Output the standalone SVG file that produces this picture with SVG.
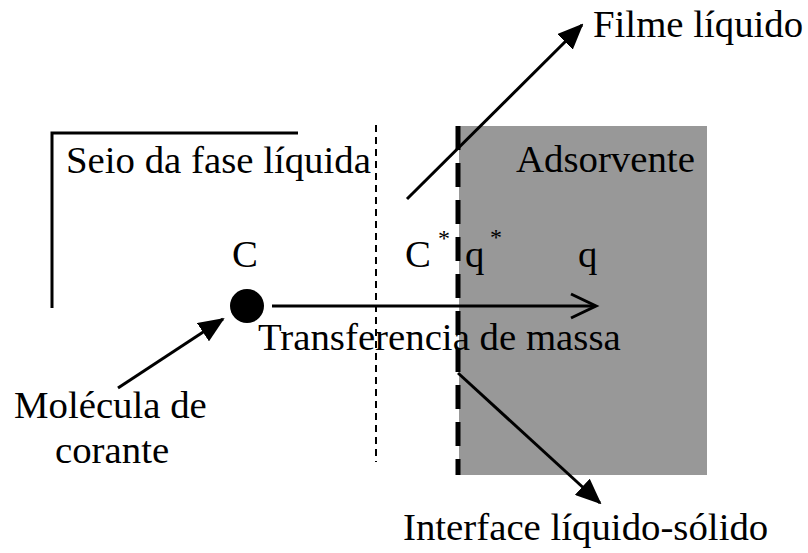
<svg xmlns="http://www.w3.org/2000/svg" width="808" height="553" viewBox="0 0 808 553">
<style>
text{font-family:"Liberation Serif","Times New Roman",serif;font-size:38.8px;fill:#000}
.ln{stroke:#000;stroke-width:3;fill:none}
.sup{font-size:24px}
</style>
<defs>
<marker id="ahf" markerWidth="26" markerHeight="22" refX="24" refY="11" orient="auto" markerUnits="userSpaceOnUse" viewBox="0 0 26 22">
<path d="M0,0 L26,11 L0,22 z" fill="#000"/>
</marker>
</defs>
<rect width="808" height="553" fill="#fff"/>
<g id="adsorvente">
<rect x="459" y="126" width="248" height="349" fill="#989898"/>
<text x="516" y="172">Adsorvente</text>
</g>
<g id="seio">
<path class="ln" d="M52,308 V133 H298"/>
<text x="66" y="173">Seio da fase líquida</text>
</g>
<g id="filme">
<line x1="376" y1="125" x2="376" y2="462" stroke="#000" stroke-width="2" stroke-dasharray="7 5"/>
<text x="593" y="37">Filme líquido</text>
</g>
<g id="interface">
<line x1="458" y1="126" x2="458" y2="475" stroke="#000" stroke-width="5" stroke-dasharray="24 13"/>
<text x="403" y="540">Interface líquido-sólido</text>
</g>
<g id="molecula">
<circle cx="247" cy="306" r="17" fill="#000"/>
<text x="232" y="267">C</text>
<text x="14" y="418">Molécula de</text>
<text x="55" y="463">corante</text>
</g>
<g id="labels">
<text x="405" y="267">C</text>
<text x="438" y="246" class="sup">*</text>
<text x="465" y="267">q</text>
<text x="490" y="245" class="sup">*</text>
<text x="578" y="267">q</text>
<text x="258" y="350">Transferencia de massa</text>
</g>
<g id="connectors">
<line class="ln" x1="272" y1="306" x2="595" y2="306"/>
<path class="ln" d="M571,294 L596,306 L571,318"/>
<line class="ln" x1="407" y1="199" x2="582" y2="25" marker-end="url(#ahf)"/>
<line class="ln" x1="118" y1="388" x2="223" y2="319" marker-end="url(#ahf)"/>
<line class="ln" x1="458" y1="373" x2="600" y2="503" marker-end="url(#ahf)"/>
</g>
</svg>
